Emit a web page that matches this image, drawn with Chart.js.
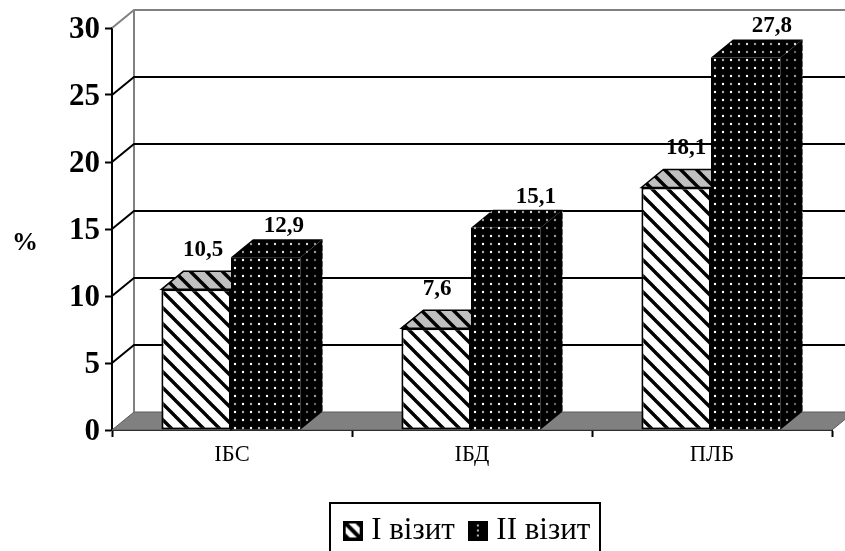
<!DOCTYPE html>
<html>
<head>
<meta charset="utf-8">
<style>
  html, body { margin: 0; padding: 0; background: #fff; }
  canvas { display: block; }
</style>
<script src="https://cdn.jsdelivr.net/npm/chart.js@4/dist/chart.umd.min.js"></script>
</head>
<body>
<canvas id="chart" width="845" height="551"></canvas>
<script>
const categories = ['ІБС', 'ІБД', 'ПЛБ'];
const firstVisit = [10.5, 7.6, 18.1];
const secondVisit = [12.9, 15.1, 27.8];
const seriesNames = ['I візит', 'II візит'];
const yTicks = [0, 5, 10, 15, 20, 25, 30];

// hand placement of the value labels, they are not regular in the original
const labelNudge = [[7, 1, 10], [18, 30, 26]];
const labelGap = [21, 13];

const SERIF = '"Liberation Serif", "Times New Roman", serif';
const depthX = 22;
const depthY = 18;
const barShift = -1;

const makeTile = (size, paint) => {
    const tile = document.createElement('canvas');
    tile.width = size;
    tile.height = size;
    paint(tile.getContext('2d'), size);
    return tile;
};

const stripes = (bg) => (c, s) => {
    c.fillStyle = bg;
    c.fillRect(0, 0, s, s);
    c.strokeStyle = '#000';
    c.lineWidth = 3.4;
    // lines overshoot the tile so the repeats join without notches
    [-s, 0, s].forEach(o => {
        c.beginPath();
        c.moveTo(o - 4, -4);
        c.lineTo(o + s + 4, s + 4);
        c.stroke();
    });
};

const dots = (bright, dim) => (c, s) => {
    c.fillStyle = '#000';
    c.fillRect(0, 0, s, s);
    [[4, 4, bright], [12, 12, bright], [12, 4, dim], [4, 12, dim]].forEach(([x, y, color]) => {
        c.fillStyle = color;
        c.beginPath();
        c.arc(x, y, 1.2, 0, Math.PI * 2);
        c.fill();
    });
};

const patternOf = (paint) => {
    const c = document.createElement('canvas').getContext('2d');
    return c.createPattern(makeTile(16, paint), 'repeat');
};

const faces = [
    { front: patternOf(stripes('#fff')), top: patternOf(stripes('#c0c0c0')), side: patternOf(stripes('#c0c0c0')), edge: '#000' },
    { front: patternOf(dots('#fff', '#b0b0b0')), top: patternOf(dots('#ddd', '#999')), side: patternOf(dots('#999', '#666')), edge: null }
];

// legend swatches
const swatches = [
    makeTile(20, (c, s) => {
        c.fillStyle = '#fff';
        c.fillRect(0, 0, s, s);
        c.strokeStyle = '#000';
        c.lineWidth = 4;
        c.beginPath(); c.moveTo(0, 0); c.lineTo(s, s); c.stroke();
        c.lineWidth = 3;
        c.beginPath(); c.moveTo(-6, 6); c.lineTo(8, 20); c.moveTo(6, -6); c.lineTo(26, 14); c.stroke();
        c.strokeRect(1.5, 1.5, s - 3, s - 3);
    }),
    makeTile(20, (c, s) => {
        c.fillStyle = '#000';
        c.fillRect(0, 0, s, s);
        c.fillStyle = '#bbb';
        [[10, 5], [10, 10], [10, 15]].forEach(([x, y]) => c.fillRect(x - 1, y - 1, 2, 2));
    })
];

const polygon = (c, pts, fill, stroke, width) => {
    c.beginPath();
    pts.forEach(([x, y], i) => i ? c.lineTo(x, y) : c.moveTo(x, y));
    c.closePath();
    if (fill) { c.fillStyle = fill; c.fill(); }
    if (stroke) { c.strokeStyle = stroke; c.lineWidth = width; c.stroke(); }
};

const box3d = {
    id: 'box3d',
    afterLayout(chart) {
        // legend sits off centre, left/right only centre the row and keep it on one line
        const lg = chart.legend;
        lg.left = 305;
        lg.right = 635;
        lg.top = 495;
    },
    beforeDatasetsDraw(chart) {
        const c = chart.ctx;
        const { left, right, top, bottom } = chart.chartArea;
        const y = chart.scales.y;
        c.save();
        // floor
        polygon(c, [[left, bottom], [left + depthX, bottom - depthY], [right + depthX, bottom - depthY], [right, bottom]], '#808080', '#5a5a5a', 1);
        // back wall
        c.strokeStyle = '#808080';
        c.lineWidth = 2;
        c.beginPath();
        c.moveTo(left, top);
        c.lineTo(left + depthX, top - depthY);
        c.lineTo(right + depthX, top - depthY);
        c.moveTo(left + depthX, top - depthY);
        c.lineTo(left + depthX, bottom - depthY);
        c.stroke();
        // grid lines run along the side wall and then the back wall
        c.strokeStyle = '#000';
        yTicks.slice(1, -1).forEach(v => {
            const py = y.getPixelForValue(v);
            c.beginPath();
            c.moveTo(left, py);
            c.lineTo(left + depthX, py - depthY);
            c.lineTo(right + depthX, py - depthY);
            c.stroke();
        });
        c.restore();
    },
    beforeDatasetDraw() {
        // bars are painted below, left series first
        return false;
    },
    afterDatasetsDraw(chart) {
        const c = chart.ctx;
        c.save();
        c.translate(barShift, 0);
        chart.data.datasets.forEach((ds, i) => {
            chart.getDatasetMeta(i).data.forEach(bar => {
                const l = bar.x - bar.width / 2;
                const r = bar.x + bar.width / 2;
                polygon(c, [[r, bar.base], [r + depthX, bar.base - depthY], [r + depthX, bar.y - depthY], [r, bar.y]], faces[i].side, faces[i].edge, 1.5);
                polygon(c, [[l, bar.y], [l + depthX, bar.y - depthY], [r + depthX, bar.y - depthY], [r, bar.y]], faces[i].top, faces[i].edge, 1.5);
                bar.draw(c);
            });
        });
        c.restore();

        // value labels
        c.save();
        c.fillStyle = '#000';
        c.font = 'bold 23px ' + SERIF;
        c.textAlign = 'center';
        c.textBaseline = 'middle';
        chart.data.datasets.forEach((ds, i) => {
            chart.getDatasetMeta(i).data.forEach((bar, j) => {
                const text = String(ds.data[j]).replace('.', ',');
                c.fillText(text, bar.x + barShift + labelNudge[i][j], bar.y - depthY - labelGap[i]);
            });
        });
        // axis title
        c.font = 'bold 26px ' + SERIF;
        c.fillText('%', 25, 243);
        c.restore();
    },
    afterDraw(chart) {
        const c = chart.ctx;
        c.save();
        c.strokeStyle = '#000';
        c.lineWidth = 2;
        c.strokeRect(330, 503, 270, 80);
        c.restore();
    }
};

new Chart(document.getElementById('chart'), {
    type: 'bar',
    data: {
        labels: categories,
        datasets: [
            { label: seriesNames[0], data: firstVisit, backgroundColor: faces[0].front, borderColor: '#000', borderWidth: 2 },
            { label: seriesNames[1], data: secondVisit, backgroundColor: faces[1].front, borderWidth: 0 }
        ]
    },
    plugins: [box3d],
    options: {
        responsive: false,
        animation: false,
        devicePixelRatio: 1,
        layout: { padding: { top: 28, right: 13, left: 0, bottom: 0 } },
        datasets: {
            bar: {
                categoryPercentage: 0.58,
                barPercentage: 1,
                borderSkipped: false
            }
        },
        scales: {
            x: {
                grid: { drawOnChartArea: false, tickLength: 7, tickColor: '#000', tickWidth: 2 },
                border: { color: '#000', width: 2 },
                ticks: { color: '#000', padding: 5, font: { family: SERIF, size: 22.5 } },
                afterFit(scale) { scale.height = 551 - 430 - scale.chart.legend.height; }
            },
            y: {
                min: 0,
                max: 30,
                afterBuildTicks(scale) { scale.ticks = yTicks.map(value => ({ value })); },
                grid: { drawOnChartArea: false, tickLength: 7, tickColor: '#000', tickWidth: 2 },
                border: { color: '#000', width: 2 },
                ticks: { color: '#000', padding: 5, labelOffset: 2, font: { family: SERIF, size: 31, weight: 'bold' } },
                afterFit(scale) { scale.width = 112; }
            }
        },
        plugins: {
            tooltip: { enabled: false },
            legend: {
                position: 'bottom',
                labels: {
                    usePointStyle: true,
                    pointStyleWidth: 6,
                    boxHeight: 20,
                    padding: 20,
                    color: '#000',
                    font: { family: SERIF, size: 31 },
                    generateLabels: (chart) => chart.data.datasets.map((ds, i) => ({
                        text: ds.label,
                        pointStyle: swatches[i],
                        datasetIndex: i,
                        lineWidth: 0,
                        fontColor: '#000'
                    }))
                }
            }
        }
    }
});
</script>
</body>
</html>
